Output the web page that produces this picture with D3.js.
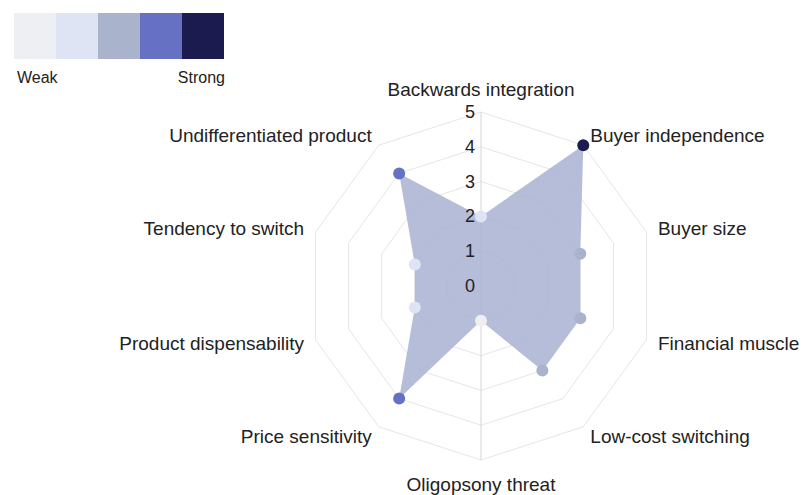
<!DOCTYPE html>
<html>
<head>
<meta charset="utf-8">
<script src="https://cdn.jsdelivr.net/npm/d3@7/dist/d3.min.js"></script>
<style>
  html, body { margin: 0; padding: 0; background: #fff; }
  svg { display: block; font-family: "Liberation Sans", Arial, sans-serif; }
</style>
</head>
<body>
<svg id="chart" width="805" height="495"></svg>
<script>
// Buyer power factors, scored 0 (weak) to 5 (strong)
const factors = [
  "Backwards integration", "Buyer independence", "Buyer size", "Financial muscle",
  "Low-cost switching", "Oligopsony threat", "Price sensitivity",
  "Product dispensability", "Tendency to switch", "Undifferentiated product"
];
const scores = [2, 5, 3, 3, 3, 1, 4, 2, 2, 4];
const tickValues = [0, 1, 2, 3, 4, 5];
const legendColors = ["#eeeff2", "#dfe4f5", "#a9b3cc", "#6671c3", "#1c1b50"];
const legendLabels = ["Weak", "Strong"];

const svg = d3.select("#chart");
const cx = 481, cy = 286, R = 174;

const r = d3.scaleLinear().domain([0, 5]).range([0, R]);
const angle = d3.scaleLinear().domain([0, factors.length]).range([0, 2 * Math.PI]);
const strength = d3.scaleOrdinal().domain([1, 2, 3, 4, 5]).range(legendColors);

const pt = (i, v) => [cx + r(v) * Math.sin(angle(i)), cy - r(v) * Math.cos(angle(i))];

// Concentric decagon grid
const ring = d3.line();
const g = svg.append("g");
tickValues.filter(v => v > 0).forEach(v => {
  const pts = factors.map((_, i) => pt(i, v));
  g.append("path")
    .attr("d", ring(pts) + "Z")
    .attr("fill", "none")
    .attr("stroke", "#e6e6e6")
    .attr("stroke-width", 1);
});

// Vertical value axis through the centre
g.append("line")
  .attr("x1", cx).attr("x2", cx)
  .attr("y1", cy - r(5)).attr("y2", cy + r(5))
  .attr("stroke", "#d4d4d4").attr("stroke-width", 1);

// Score polygon
const radial = d3.lineRadial()
  .angle((d, i) => angle(i))
  .radius(d => r(d))
  .curve(d3.curveLinearClosed);
svg.append("path")
  .attr("transform", `translate(${cx},${cy})`)
  .attr("d", radial(scores))
  .attr("fill", "#a9b1d2")
  .attr("fill-opacity", 0.85)
  .attr("stroke", "none");

// Value tick labels
svg.append("g").selectAll("text")
  .data(tickValues)
  .join("text")
  .attr("x", cx - 11)
  .attr("y", d => cy - r(d))
  .attr("text-anchor", "middle")
  .attr("dominant-baseline", "central")
  .attr("font-size", 18)
  .attr("fill", "#222")
  .text(d => d);

// Score markers coloured by strength
svg.append("g").selectAll("circle")
  .data(scores)
  .join("circle")
  .attr("cx", (d, i) => pt(i, d)[0])
  .attr("cy", (d, i) => pt(i, d)[1])
  .attr("r", 6)
  .attr("fill", d => strength(d));

// Factor labels around the outside
svg.append("g").selectAll("text")
  .data(factors)
  .join("text")
  .each(function (d, i) {
    const a = angle(i);
    const s = Math.sin(a), c = Math.cos(a);
    const Rl = R + 12;
    let x = cx + Rl * s, y = cy - Rl * c;
    let anchor = "middle";
    if (s > 0.01) anchor = "start";
    else if (s < -0.01) anchor = "end";
    else y += c > 0 ? -11 : 12;
    d3.select(this)
      .attr("x", x).attr("y", y)
      .attr("text-anchor", anchor)
      .attr("dominant-baseline", "central");
  })
  .attr("font-size", 19)
  .attr("fill", "#222")
  .text(d => d);

// Strength legend
const lx = 14, ly = 13, sw = 42, sh = 46;
const legend = svg.append("g");
legend.selectAll("rect")
  .data(legendColors)
  .join("rect")
  .attr("x", (d, i) => lx + i * sw)
  .attr("y", ly)
  .attr("width", sw)
  .attr("height", sh)
  .attr("fill", d => d);
legend.append("text")
  .attr("x", lx + 3).attr("y", 77)
  .attr("dominant-baseline", "central")
  .attr("font-size", 16).attr("fill", "#222")
  .text(legendLabels[0]);
legend.append("text")
  .attr("x", lx + 5 * sw + 1).attr("y", 77)
  .attr("text-anchor", "end")
  .attr("dominant-baseline", "central")
  .attr("font-size", 16).attr("fill", "#222")
  .text(legendLabels[1]);
</script>
</body>
</html>
